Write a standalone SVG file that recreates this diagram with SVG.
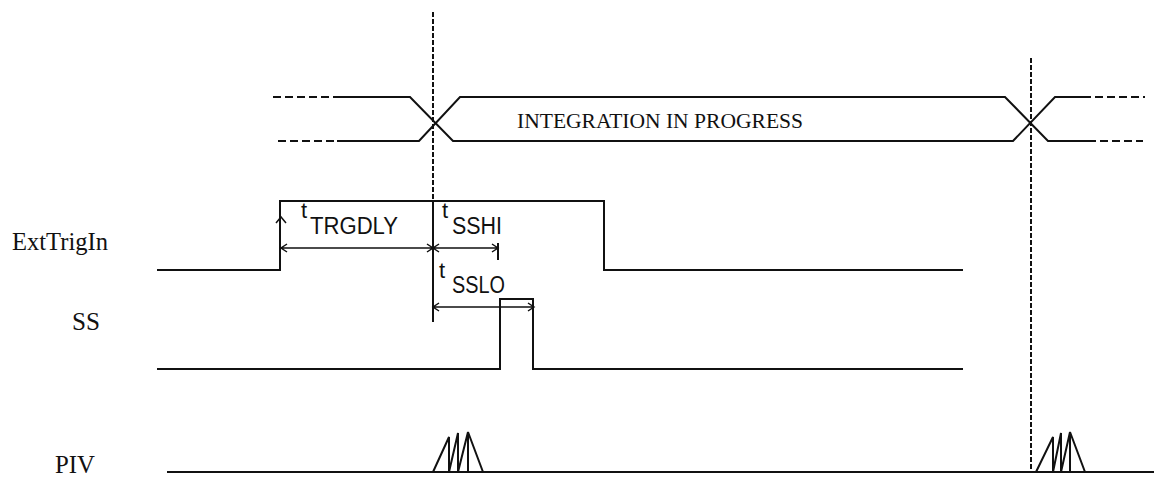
<svg xmlns="http://www.w3.org/2000/svg" width="1154" height="480" viewBox="0 0 1154 480">
<style>
.w{fill:none;stroke:#111;stroke-width:2}
.d{fill:none;stroke:#111;stroke-width:2;stroke-dasharray:8 4}
.v{fill:none;stroke:#111;stroke-width:2;stroke-dasharray:5 2}
.a{fill:none;stroke:#111;stroke-width:1.5}
.lbl{font-family:"Liberation Serif",serif;font-size:26px;fill:#111}
.int{font-family:"Liberation Serif",serif;font-size:22px;fill:#111}
.t{font-family:"Liberation Sans",Arial,sans-serif;fill:#111}
</style>
<rect width="1154" height="480" fill="#fff"/>
<g id="labels">
<text class="lbl" x="12" y="250" textLength="96" lengthAdjust="spacingAndGlyphs">ExtTrigIn</text>
<text class="lbl" x="72" y="330" textLength="28" lengthAdjust="spacingAndGlyphs">SS</text>
<text class="lbl" x="55" y="473" font-size="24" textLength="40" lengthAdjust="spacingAndGlyphs">PIV</text>
</g>
<g id="bus">
<path class="d" d="M273,97 H335 M278,141 H337"/>
<path class="w" d="M335,97 H410 L453,141 H1013 L1055,97 H1083"/>
<path class="w" d="M337,141 H419 L460,97 H1005 L1048,141 H1088"/>
<path class="d" d="M1083,97 H1145 M1088,141 H1143"/>
<text class="int" x="517" y="128" textLength="286" lengthAdjust="spacingAndGlyphs">INTEGRATION IN PROGRESS</text>
</g>
<g id="extTrigIn">
<path class="w" d="M157,270 H280 V201 H604 V270 H963"/>
<path class="a" d="M276,223 L281,217 L286,223"/>
</g>
<g id="ss">
<path class="w" d="M157,369 H500 V299 H533 V369 H963"/>
</g>
<g id="piv">
<path class="w" d="M167,472 H1154"/>
<path class="w" d="M433,472 L449,437 V472 L458,433 V472 L468,432 V472 M468,432 L483,472"/>
<path class="w" d="M1036,472 L1053,437 V472 L1061,433 V472 L1070,432 V472 M1070,432 L1085,472"/>
</g>
<g id="connectors">
<path class="v" d="M433,12 V201"/>
<path class="w" d="M433,201 V322"/>
<path class="v" d="M1031,58 V472"/>
<path class="a" d="M281,248 H433 M287,244 L281,248 L287,252 M427,244 L433,248 L427,252"/>
<path class="a" d="M433,248 H498 M439,244 L433,248 L439,252 M492,244 L498,248 L492,252"/>
<path class="w" d="M498,243 V260"/>
<path class="a" d="M433,307 H534 M439,303 L433,307 L439,311 M528,303 L534,307 L528,311"/>
</g>
<g id="timing-labels">
<text class="t" x="301" y="218" font-size="22">t</text>
<text class="t" x="310" y="234" font-size="23" textLength="88" lengthAdjust="spacingAndGlyphs">TRGDLY</text>
<text class="t" x="442" y="218" font-size="22">t</text>
<text class="t" x="452" y="234" font-size="23" textLength="50" lengthAdjust="spacingAndGlyphs">SSHI</text>
<text class="t" x="439" y="278" font-size="22">t</text>
<text class="t" x="452" y="293" font-size="23" textLength="53" lengthAdjust="spacingAndGlyphs">SSLO</text>
</g>
</svg>
